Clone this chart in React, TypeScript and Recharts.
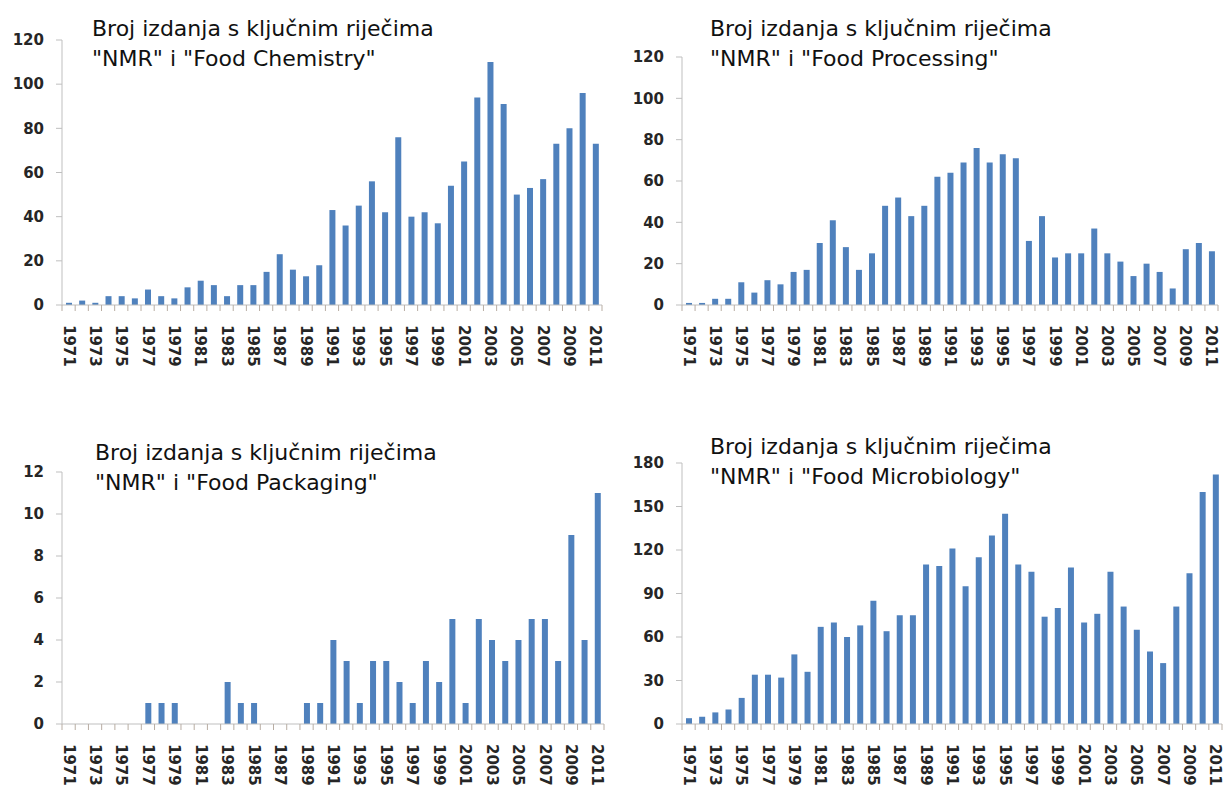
import React from 'react';
import { BarChart, Bar, XAxis, YAxis } from 'recharts';

const years = [
  '1971', '1972', '1973', '1974', '1975', '1976', '1977', '1978', '1979', '1980',
  '1981', '1982', '1983', '1984', '1985', '1986', '1987', '1988', '1989', '1990',
  '1991', '1992', '1993', '1994', '1995', '1996', '1997', '1998', '1999', '2000',
  '2001', '2002', '2003', '2004', '2005', '2006', '2007', '2008', '2009', '2010',
  '2011',
];

const foodChemistry = [
  1, 2, 1, 4, 4, 3, 7, 4, 3, 8,
  11, 9, 4, 9, 9, 15, 23, 16, 13, 18,
  43, 36, 45, 56, 42, 76, 40, 42, 37, 54,
  65, 94, 110, 91, 50, 53, 57, 73, 80, 96,
  73,
];

const foodProcessing = [
  1, 1, 3, 3, 11, 6, 12, 10, 16, 17,
  30, 41, 28, 17, 25, 48, 52, 43, 48, 62,
  64, 69, 76, 69, 73, 71, 31, 43, 23, 25,
  25, 37, 25, 21, 14, 20, 16, 8, 27, 30,
  26,
];

const foodPackaging = [
  0, 0, 0, 0, 0, 0, 1, 1, 1, 0,
  0, 0, 2, 1, 1, 0, 0, 0, 1, 1,
  4, 3, 1, 3, 3, 2, 1, 3, 2, 5,
  1, 5, 4, 3, 4, 5, 5, 3, 9, 4,
  11,
];

const foodMicrobiology = [
  4, 5, 8, 10, 18, 34, 34, 32, 48, 36,
  67, 70, 60, 68, 85, 64, 75, 75, 110, 109,
  121, 95, 115, 130, 145, 110, 105, 74, 80, 108,
  70, 76, 105, 81, 65, 50, 42, 81, 104, 160,
  172,
];

const ticks120 = [0, 20, 40, 60, 80, 100, 120];
const ticks12 = [0, 2, 4, 6, 8, 10, 12];
const ticks180 = [0, 30, 60, 90, 120, 150, 180];

const titleLine1 = 'Broj izdanja s ključnim riječima';

const FONT = '"DejaVu Sans", Verdana, sans-serif';
const BLUE = '#4F81BD';
const AXIS = '#BFBFBF';
const TEXT = '#262626';

const YearTick = (props: any) => {
  const { x, y, payload, index, bw } = props;
  const last = index === years.length - 1;
  return (
    <g>
      <line x1={x - bw / 2} x2={x - bw / 2} y1={y} y2={y + 6} stroke="#B8ADA3" />
      {last && <line x1={x + bw / 2} x2={x + bw / 2} y1={y} y2={y + 6} stroke="#B8ADA3" />}
      {index % 2 === 0 && (
        <text
          transform={`translate(${x},${y + 20}) rotate(90)`}
          textAnchor="start"
          dominantBaseline="central"
          fontFamily={FONT}
          fontSize={15}
          fontWeight="bold"
          fill={TEXT}
        >
          {payload.value}
        </text>
      )}
    </g>
  );
};

type PanelProps = {
  left: number;
  top: number;
  width: number;
  height: number;
  yw: number;
  margin: { top: number; right: number; bottom: number; left: number };
  values: number[];
  ticks: number[];
  title2: string;
  tx: number;
  ty: number;
};

function Panel({ left, top, width, height, yw, margin, values, ticks, title2, tx, ty }: PanelProps) {
  const data = years.map((year, i) => ({ year, value: values[i] }));
  const bw = (width - yw - margin.left - margin.right) / years.length;
  return (
    <div style={{ position: 'absolute', left, top, width, height }}>
      <BarChart width={width} height={height} data={data} margin={margin}>
        <XAxis
          dataKey="year"
          interval={0}
          height={50}
          tickSize={0}
          tickMargin={0}
          tickLine={false}
          axisLine={{ stroke: AXIS }}
          tick={<YearTick bw={bw} />}
        />
        <YAxis
          width={yw}
          domain={[0, ticks[ticks.length - 1]]}
          ticks={ticks}
          interval={0}
          tickSize={6}
          tickMargin={12}
          axisLine={{ stroke: AXIS }}
          tickLine={{ stroke: AXIS }}
          tick={{ fill: TEXT, fontSize: 15, fontFamily: FONT, fontWeight: 'bold' }}
        />
        <Bar dataKey="value" fill={BLUE} barSize={6} isAnimationActive={false} />
      </BarChart>
      <svg
        width={width}
        height={height}
        style={{ position: 'absolute', left: 0, top: 0, pointerEvents: 'none' }}
      >
        <text fontFamily={FONT} fontSize={22} fill="#111">
          <tspan x={tx} y={ty}>{titleLine1}</tspan>
          <tspan x={tx} y={ty + 30}>{title2}</tspan>
        </text>
      </svg>
    </div>
  );
}

export default function App() {
  return (
    <div
      style={{
        position: 'absolute',
        left: 0,
        top: 0,
        width: 1224,
        height: 787,
        background: '#fff',
        overflow: 'hidden',
        fontFamily: FONT,
      }}
    >
      <Panel
        left={0}
        top={0}
        width={612}
        height={395}
        yw={62}
        margin={{ top: 40, right: 10, bottom: 40, left: 0 }}
        values={foodChemistry}
        ticks={ticks120}
        title2={'"NMR" i "Food Chemistry"'}
        tx={92}
        ty={36}
      />
      <Panel
        left={612}
        top={0}
        width={612}
        height={395}
        yw={70}
        margin={{ top: 57, right: 6, bottom: 40, left: 0 }}
        values={foodProcessing}
        ticks={ticks120}
        title2={'"NMR" i "Food Processing"'}
        tx={98}
        ty={36}
      />
      <Panel
        left={0}
        top={395}
        width={612}
        height={392}
        yw={62}
        margin={{ top: 77, right: 8, bottom: 13, left: 0 }}
        values={foodPackaging}
        ticks={ticks12}
        title2={'"NMR" i "Food Packaging"'}
        tx={95}
        ty={65}
      />
      <Panel
        left={612}
        top={395}
        width={612}
        height={392}
        yw={70}
        margin={{ top: 68, right: 2, bottom: 13, left: 0 }}
        values={foodMicrobiology}
        ticks={ticks180}
        title2={'"NMR" i "Food Microbiology"'}
        tx={98}
        ty={59}
      />
    </div>
  );
}
